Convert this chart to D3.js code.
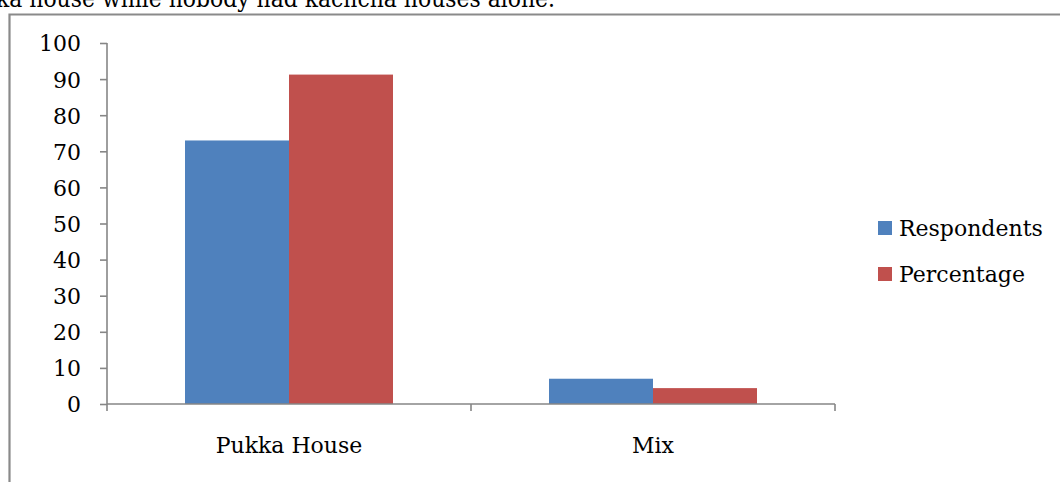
<!DOCTYPE html>
<html>
<head>
<meta charset="utf-8">
<script src="https://cdn.jsdelivr.net/npm/d3@7"></script>
<style>
  html, body { margin: 0; padding: 0; background: #fff; }
  svg { display: block; }
  text { font-family: "DejaVu Serif", "Liberation Serif", serif; fill: #000; }
</style>
</head>
<body>
<script>
// House type data
const categories = ["Pukka House", "Mix"];
const seriesNames = ["Respondents", "Percentage"];
const respondents = [73, 7];
const percentage = [91.25, 4.4];
const yTicks = [0, 10, 20, 30, 40, 50, 60, 70, 80, 90, 100];
const colors = ["#4F81BD", "#C0504D"];

const W = 1060, H = 482;
const svg = d3.select("body").append("svg").attr("width", W).attr("height", H);

// Running text line above the chart frame
svg.append("text")
  .attr("x", -4).attr("y", 7)
  .attr("textLength", 559).attr("lengthAdjust", "spacingAndGlyphs")
  .style("font-size", "25px")
  .text("ka house while nobody had kachcha houses alone.");

// Chart frame (extends past the page edges)
svg.append("path")
  .attr("d", `M9.5,${H + 5} V14.5 H${W + 5}`)
  .attr("fill", "none").attr("stroke", "#8a8a8a").attr("stroke-width", 2.2);

const plot = { left: 107, right: 835, top: 43, bottom: 404 };

const x0 = d3.scaleBand().domain(categories).range([plot.left, plot.right]).paddingInner(0).paddingOuter(0);
const x1 = d3.scaleBand().domain(seriesNames).range([0, x0.bandwidth()]).paddingInner(0).paddingOuter(0.75);
const y = d3.scaleLinear().domain([0, 100]).range([plot.bottom, plot.top]);

const rows = categories.map((c, i) => ({ cat: c, vals: [respondents[i], percentage[i]] }));

// Bars
const groups = svg.append("g").selectAll("g").data(rows).join("g")
  .attr("transform", d => `translate(${x0(d.cat)},0)`);
groups.selectAll("rect").data(d => d.vals.map((v, j) => ({ name: seriesNames[j], v, j })))
  .join("rect")
  .attr("x", d => x1(d.name))
  .attr("width", x1.bandwidth())
  .attr("y", d => y(d.v))
  .attr("height", d => y(0) - y(d.v))
  .attr("fill", d => colors[d.j]);

const axisColor = "#868686";

// Y axis
const yAxis = svg.append("g").attr("transform", `translate(${plot.left},0)`)
  .call(d3.axisLeft(y).tickValues(yTicks).tickSize(7).tickPadding(19).tickFormat(d3.format("d")));
yAxis.selectAll("path, line").attr("stroke", axisColor).attr("stroke-width", 1.6);
yAxis.selectAll("text").style("font-size", "22px").attr("dy", "0.36em");
yAxis.select(".domain").attr("d", `M0,${plot.top}V${plot.bottom}`);

// X axis: baseline, boundary ticks and category labels
const xg = svg.append("g").attr("transform", `translate(0,${plot.bottom})`);
xg.append("line")
  .attr("x1", plot.left).attr("x2", plot.right)
  .attr("stroke", axisColor).attr("stroke-width", 1.6);
const bounds = categories.map(c => x0(c)).concat([x0(categories[categories.length - 1]) + x0.bandwidth()]);
xg.selectAll("line.tick").data(bounds).join("line")
  .attr("class", "tick")
  .attr("x1", d => d).attr("x2", d => d)
  .attr("y1", 0).attr("y2", 7)
  .attr("stroke", axisColor).attr("stroke-width", 1.6);
xg.selectAll("text").data(categories).join("text")
  .attr("x", d => x0(d) + x0.bandwidth() / 2)
  .attr("y", 49)
  .attr("text-anchor", "middle")
  .style("font-size", "22px")
  .text(d => d);

// Legend
const legend = svg.append("g").selectAll("g").data(seriesNames).join("g")
  .attr("transform", (d, i) => `translate(878,${221 + i * 46})`);
legend.append("rect").attr("width", 14).attr("height", 14).attr("fill", (d, i) => colors[i]);
legend.append("text").attr("x", 21).attr("y", 15).style("font-size", "22px").text(d => d);
</script>
</body>
</html>
